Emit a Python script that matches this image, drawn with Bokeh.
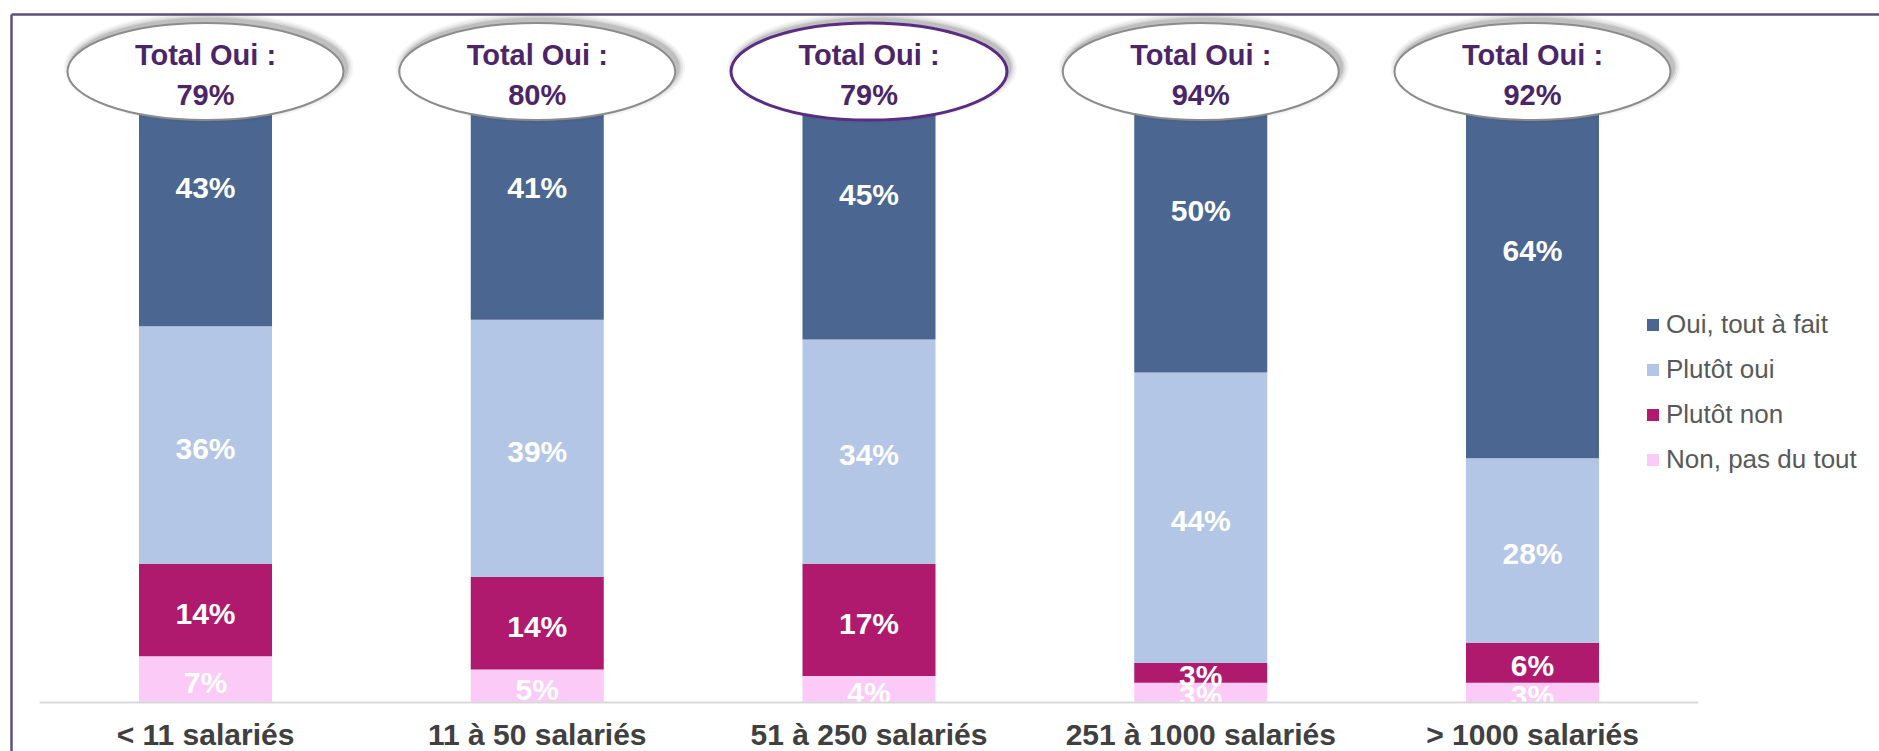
from bokeh.plotting import figure
from bokeh.models import ColumnDataSource, Range1d, Legend, LegendItem
from bokeh.core.properties import value
from bokeh.embed import file_html
from bokeh.resources import INLINE

# ---------------- data ----------------
categories = ["< 11 salariés", "11 à 50 salariés", "51 à 250 salariés",
              "251 à 1000 salariés", "> 1000 salariés"]
non_pas_du_tout = [7, 5, 4, 3, 3]
plutot_non = [14, 14, 17, 3, 6]
plutot_oui = [36, 39, 34, 44, 28]
oui_tout_a_fait = [43, 41, 45, 50, 64]
total_oui = [79, 80, 79, 94, 92]
series_names = ["Non, pas du tout", "Plutôt non", "Plutôt oui", "Oui, tout à fait"]

# ---------------- style / layout ----------------
W, H = 1879, 751
PX_X = 331.75      # px per category slot
X0 = 205           # canvas px of first category centre
PX_Y = 6.6         # px per percent
Y0 = 702           # canvas px of 0 %
BAR_W_PX = 133
colors = ["#FCCAF6", "#B01A6E", "#B3C6E5", "#4A6691"]
FONT = "Liberation Sans"

x_start = -X0 / PX_X
x_end = (W - X0) / PX_X
y_end = Y0 / PX_Y
y_start = -(H - Y0) / PX_Y


def px_to_y(py):
    return (Y0 - py) / PX_Y


def px_to_x(px):
    return (px - X0) / PX_X


p = figure(width=W, height=H, x_range=Range1d(x_start, x_end),
           y_range=Range1d(y_start, y_end), output_backend="svg",
           toolbar_location=None, x_axis_location=None, y_axis_location=None,
           min_border=0)
p.grid.visible = False
p.outline_line_color = None
p.background_fill_color = "white"
p.border_fill_color = "white"

xs = list(range(len(categories)))
src = ColumnDataSource(dict(x=xs, s0=non_pas_du_tout, s1=plutot_non,
                            s2=plutot_oui, s3=oui_tout_a_fait))
stack_keys = ["s0", "s1", "s2", "s3"]
rends = p.vbar_stack(stack_keys, x="x", width=BAR_W_PX / PX_X, color=colors,
                     line_color=None, source=src)

# segment labels
lx, ly, lt = [], [], []
series = [non_pas_du_tout, plutot_non, plutot_oui, oui_tout_a_fait]
for i in xs:
    bottom = 0
    for s in series:
        v = s[i]
        lx.append(i)
        ly.append(bottom + v / 2)
        lt.append(f"{v}%")
        bottom += v
p.text(x=lx, y=ly, text=lt, text_color="white", text_font=value(FONT),
       text_font_style="bold", text_font_size="30px", text_align="center",
       text_baseline="middle", y_offset=3)

# baseline
p.line(x=[-0.5, len(categories) - 0.5], y=[0, 0], line_color="#D9D9D9",
       line_width=2)

# category labels
p.text(x=xs, y=[0] * len(xs), text=categories, text_color="#404040",
       text_font=value(FONT), text_font_style="bold", text_font_size="30px",
       text_align="center", text_baseline="middle", y_offset=32)

# frame border (top and left)
top_y = px_to_y(14)
left_x = px_to_x(11)
p.line(x=[left_x, x_end], y=[top_y, top_y], line_color="#5F4F7E", line_width=2.5)
p.line(x=[left_x, left_x], y=[y_start, top_y], line_color="#5F4F7E", line_width=2.5)

# ellipses "Total Oui"
EW, EH = 276, 97
ey = px_to_y(71)
for grow, alpha in [(14, 0.05), (10, 0.07), (6, 0.10), (3, 0.14)]:
    p.ellipse(x=[x + 3 / PX_X for x in xs], y=[ey + 4 / PX_Y] * len(xs),
              width=EW + grow, height=EH + grow, width_units="screen",
              height_units="screen", fill_color="#3C3C3C", fill_alpha=alpha,
              line_color=None)
outline_cols = ["#8C8C8C", "#8C8C8C", "#5B2C83", "#8C8C8C", "#8C8C8C"]
outline_w = [2, 2, 3, 2, 2]
esrc = ColumnDataSource(dict(x=xs, y=[ey] * len(xs), lc=outline_cols, lw=outline_w))
p.ellipse(x="x", y="y", width=EW, height=EH, width_units="screen",
          height_units="screen", fill_color="white", line_color="lc",
          line_width="lw", source=esrc)
p.text(x=xs, y=[ey] * len(xs), text=["Total Oui :"] * len(xs),
       text_color="#4B2568", text_font=value(FONT), text_font_style="bold",
       text_font_size="29px", text_align="center", text_baseline="middle",
       y_offset=-17)
p.text(x=xs, y=[ey] * len(xs), text=[f"{t}%" for t in total_oui],
       text_color="#4B2568", text_font=value(FONT), text_font_style="bold",
       text_font_size="29px", text_align="center", text_baseline="middle",
       y_offset=23)

# legend
items = [LegendItem(label=series_names[k], renderers=[rends[k]]) for k in (3, 2, 1, 0)]
legend = Legend(items=items, location=(1645, 276), padding=0, margin=0,
                spacing=14, label_height=30, glyph_height=15, glyph_width=15,
                label_standoff=6, border_line_color=None,
                background_fill_alpha=0, label_text_font=FONT,
                label_text_font_size="26px", label_text_color="#595959")
p.add_layout(legend)

open("out.html", "w").write(file_html(p, INLINE))
